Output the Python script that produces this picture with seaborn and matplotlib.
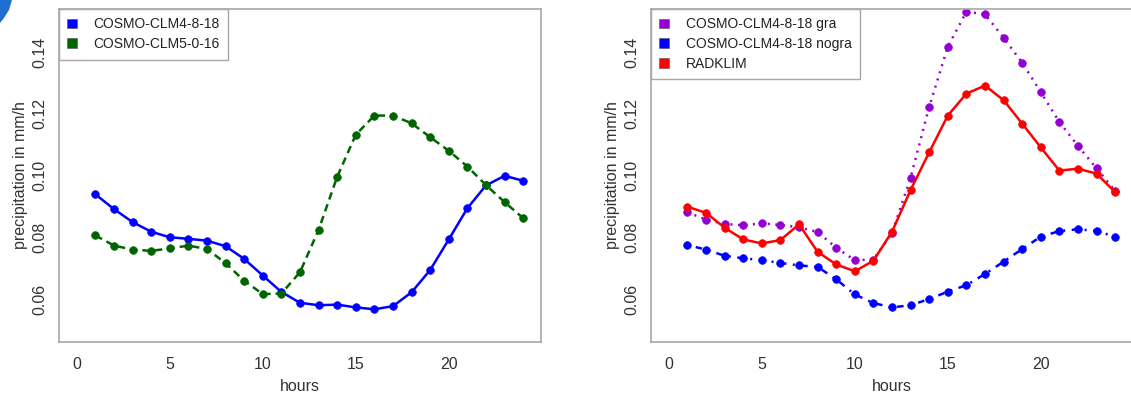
import numpy as np
import pandas as pd
import seaborn as sns
import matplotlib.pyplot as plt
from matplotlib.patches import Patch, Polygon

# hourly mean precipitation (mm/h)
hours = list(range(1, 25))

clm4_8_18 = [0.0939, 0.0891, 0.0849, 0.0818, 0.0800, 0.0795, 0.0789, 0.0771,
             0.0730, 0.0676, 0.0623, 0.0588, 0.0580, 0.0582, 0.0573, 0.0567,
             0.0577, 0.0622, 0.0694, 0.0793, 0.0894, 0.0968, 0.0999, 0.0983]
clm5_0_16 = [0.0806, 0.0773, 0.0760, 0.0756, 0.0764, 0.0773, 0.0762, 0.0716,
             0.0659, 0.0616, 0.0618, 0.0687, 0.0824, 0.0996, 0.1132, 0.1194,
             0.1194, 0.1169, 0.1124, 0.1080, 0.1029, 0.0969, 0.0914, 0.0862]

clm4_gra = [0.0881, 0.0857, 0.0843, 0.0839, 0.0845, 0.0840, 0.0832, 0.0817,
            0.0766, 0.0726, 0.0728, 0.0813, 0.0993, 0.1222, 0.1417, 0.1530,
            0.1522, 0.1446, 0.1365, 0.1270, 0.1173, 0.1096, 0.1023, 0.0950]
clm4_nogra = [0.0775, 0.0760, 0.0740, 0.0732, 0.0726, 0.0717, 0.0709, 0.0704,
              0.0664, 0.0615, 0.0587, 0.0573, 0.0580, 0.0600, 0.0624, 0.0645,
              0.0681, 0.0721, 0.0762, 0.0802, 0.0820, 0.0826, 0.0820, 0.0802]
radklim = [0.0899, 0.0879, 0.0831, 0.0793, 0.0780, 0.0791, 0.0842, 0.0753,
           0.0712, 0.0690, 0.0724, 0.0818, 0.0953, 0.1075, 0.1194, 0.1265,
           0.1291, 0.1244, 0.1168, 0.1091, 0.1016, 0.1022, 0.1006, 0.0946]

left_series = [
    ('COSMO-CLM4-8-18', clm4_8_18, '#0000ff', '-'),
    ('COSMO-CLM5-0-16', clm5_0_16, '#006400', (0, (3, 2))),
]
right_series = [
    ('COSMO-CLM4-8-18 gra', clm4_gra, '#9400d3', (0, (0.8, 2.2))),
    ('COSMO-CLM4-8-18 nogra', clm4_nogra, '#0000ff', (0, (0.8, 2.6, 2.6, 2.6))),
    ('RADKLIM', radklim, '#ff0000', '-'),
]

sns.set_style('white')
plt.rcParams['font.family'] = ['Liberation Sans', 'DejaVu Sans']

frame = '#a8a8a8'
txt = '#333333'

fig = plt.figure(figsize=(11.31, 3.97), dpi=100)
ax1 = fig.add_axes([59 / 1131, 1 - 342 / 397, 482 / 1131, 333 / 397])
ax2 = fig.add_axes([651 / 1131, 1 - 342 / 397, 482 / 1131, 333 / 397])

for ax, series in [(ax1, left_series), (ax2, right_series)]:
    for name, vals, col, ls in series:
        df = pd.DataFrame({'hours': hours, 'precip': vals})
        sns.lineplot(data=df, x='hours', y='precip', ax=ax, color=col,
                     linestyle=ls, linewidth=1.8, marker='o', markersize=5.5,
                     markeredgecolor=col, markeredgewidth=0.5)

    ax.set_xlim(-0.96, 24.96)
    ax.set_ylim(0.0461, 0.1539)
    ax.set_xticks([0, 5, 10, 15, 20])
    ax.set_yticks([0.06, 0.08, 0.10, 0.12, 0.14])
    ax.set_yticklabels(['0.06', '0.08', '0.10', '0.12', '0.14'],
                       rotation=90, va='center')
    ax.tick_params(axis='both', direction='out', length=4.5, width=0.9,
                   color=frame, labelcolor=txt, labelsize=11.5)
    ax.tick_params(axis='x', pad=6)
    ax.tick_params(axis='y', pad=4)
    ax.set_xlabel('hours', fontsize=11.5, color=txt, labelpad=5)
    ax.set_ylabel('precipitation in mm/h', fontsize=11.5, color=txt,
                  labelpad=3)
    for sp in ax.spines.values():
        sp.set_color(frame)
        sp.set_linewidth(1.2)

    handles = [Patch(facecolor=c, edgecolor='#555555', linewidth=0.4)
               for _, _, c, _ in series]
    labels = [n for n, _, _, _ in series]
    leg = ax.legend(handles, labels, loc='upper left', borderaxespad=0,
                    fancybox=False, framealpha=1, edgecolor=frame,
                    fontsize=10, handlelength=0.7, handleheight=0.7,
                    handletextpad=1.2, labelspacing=0.42, borderpad=0.6)
    leg.get_frame().set_linewidth(1.0)
    for t in leg.get_texts():
        t.set_color('#222222')

# slide decoration in top-left corner
fig.patches.append(Polygon([[0, 1], [12 / 1131, 1], [9 / 1131, 1 - 10 / 397],
                            [4 / 1131, 1 - 18 / 397], [0, 1 - 23 / 397]],
                           closed=True, transform=fig.transFigure,
                           facecolor='#1e6fd0', edgecolor='none'))

fig.savefig('out.png', dpi=100)
